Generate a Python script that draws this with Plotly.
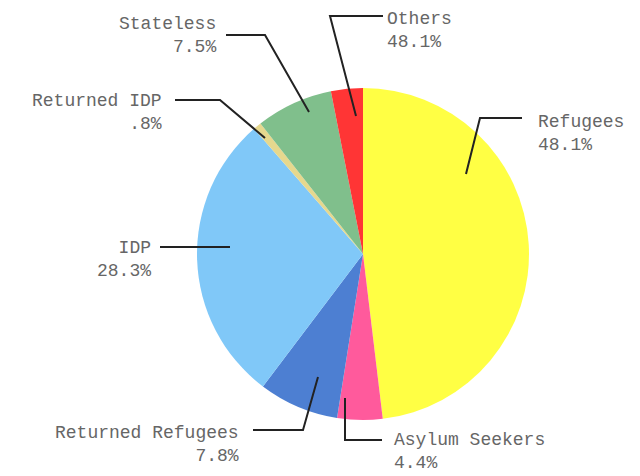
import plotly.graph_objects as go

# Data
categories = ["Refugees", "Asylum Seekers", "Returned Refugees", "IDP",
              "Returned IDP", "Stateless", "Others"]
values = [48.1, 4.4, 7.8, 28.3, 0.8, 7.5, 3.1]
label_texts = ["48.1%", "4.4%", "7.8%", "28.3%", ".8%", "7.5%", "48.1%"]
colors = ["#FFFF44", "#FF5A9C", "#4D7FD2", "#80C8F8", "#E6D88E", "#80BF8C", "#FF3535"]

# page has an 8px body margin, so the figure is 8px smaller on each side
OFF = 8
W, H = 640 - OFF, 476 - OFF

def px(x):
    return (x - OFF) / W

def py(y):
    return 1 - (y - OFF) / H

# pie geometry (page pixels)
cx, cy, r = 363, 254, 166

fig = go.Figure(go.Pie(
    labels=categories, values=values, sort=False, direction="clockwise",
    rotation=0, textinfo="none", hoverinfo="label+percent",
    marker=dict(colors=colors, line=dict(width=0)),
    domain=dict(x=[px(cx - r), px(cx + r)], y=[py(cy + r), py(cy - r)]),
    showlegend=False,
))

# label layout: (text x, text y-center, anchor, leader path points) in page pixels
label_layout = {
    "Refugees": (536, 134, "left", [(522, 118), (480, 118), (466, 174)]),
    "Asylum Seekers": (392, 451, "left", [(382, 440), (345, 440), (345, 398)]),
    "Returned Refugees": (241, 444, "right", [(253, 430), (303, 430), (318, 377)]),
    "IDP": (153, 259, "right", [(160, 247), (230, 247)]),
    "Returned IDP": (164, 112, "right", [(175, 100), (220, 100), (265, 138)]),
    "Stateless": (218, 35, "right", [(226, 35), (265, 35), (309, 112)]),
    "Others": (385, 30, "left", [(383, 16), (330, 16), (356, 116)]),
}

font = dict(family="Liberation Mono, Courier New, monospace", size=18, color="#666666")
annotations = []
shapes = []
for cat, pct in zip(categories, label_texts):
    tx, ty, anchor, pts = label_layout[cat]
    annotations.append(dict(
        x=px(tx), y=py(ty), xref="paper", yref="paper",
        text=f"{cat}<br>{pct}", showarrow=False,
        xanchor=anchor, yanchor="middle", align=anchor, font=font,
    ))
    path = "M " + " L ".join(f"{px(x)},{py(y)}" for x, y in pts)
    shapes.append(dict(type="path", path=path, xref="paper", yref="paper",
                       line=dict(color="#222222", width=2)))

fig.update_layout(
    width=W, height=H, margin=dict(l=0, r=0, t=0, b=0),
    paper_bgcolor="white", plot_bgcolor="white",
    annotations=annotations, shapes=shapes,
)

fig.write_html("out.html")
